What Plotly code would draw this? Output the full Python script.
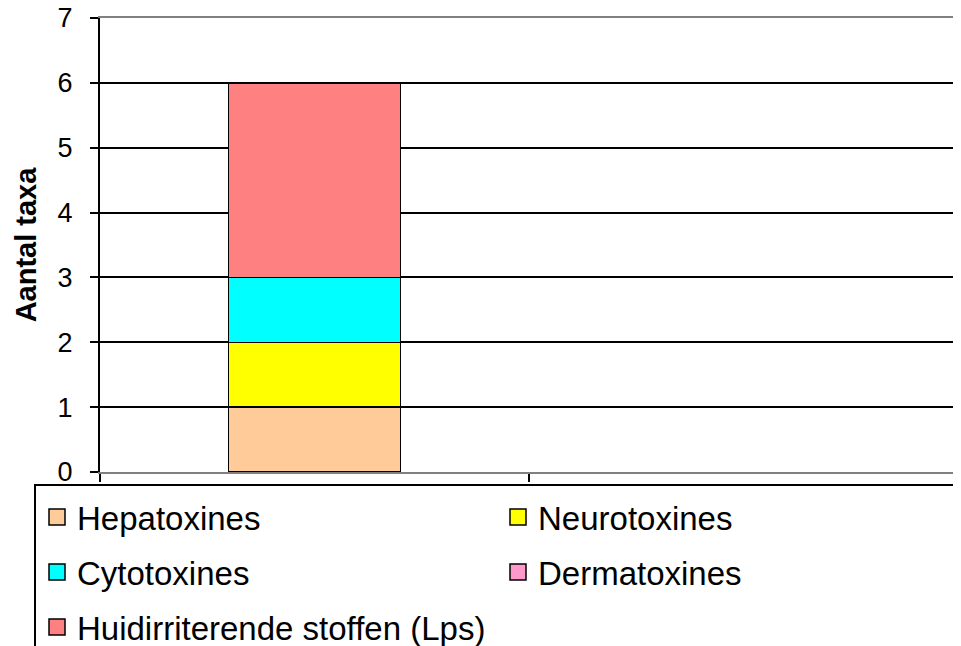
import plotly.graph_objects as go

categories = ["Groep 1", "Groep 2"]
series_names = ["Hepatoxines", "Neurotoxines", "Cytotoxines", "Dermatoxines",
                "Huidirriterende stoffen (Lps)"]
hepatoxines = [1, 0]
neurotoxines = [1, 0]
cytotoxines = [1, 0]
dermatoxines = [0, 0]
huidirriterende = [3, 0]
series_values = [hepatoxines, neurotoxines, cytotoxines, dermatoxines, huidirriterende]
colors = ["#FFCC99", "#FFFF00", "#00FFFF", "#FF99CC", "#FF8080"]
legend_ids = ["legend", "legend", "legend2", "legend2", "legend3"]
y_ticks = [0, 1, 2, 3, 4, 5, 6, 7]

FONT = "Liberation Sans, Arial, sans-serif"

fig = go.Figure()
for name, vals, col, lg in zip(series_names, series_values, colors, legend_ids):
    fig.add_trace(go.Bar(
        x=categories, y=vals, name=name, legendgroup=name, showlegend=False,
        marker=dict(color=col,
                    line=dict(color="black",
                              width=[1.5 if v else 0 for v in vals])),
    ))
    # legend proxy with a larger square swatch
    fig.add_trace(go.Scatter(
        x=[None], y=[None], mode="markers", name=name, legendgroup=name,
        legend=lg, showlegend=True,
        marker=dict(symbol="square", size=16, color=col,
                    line=dict(color="black", width=1.5)),
    ))

# page body has an 8px margin, so the figure sits at (8, 8) in the window
OFF = 8
PLOT_L, PLOT_T, PLOT_R, PLOT_B = 100, 18, 958, 472
PH = float(PLOT_B - PLOT_T)
PW = float(PLOT_R - PLOT_L)

def py(p):
    return (PLOT_B - p) / PH

def px(p):
    return (p - PLOT_L) / PW

legend_common = dict(orientation="h", xanchor="left", yanchor="middle",
                     x=px(37), entrywidth=416, entrywidthmode="pixels",
                     font=dict(family=FONT, size=33, color="black"),
                     bgcolor="rgba(0,0,0,0)", borderwidth=0)

fig.update_layout(
    width=961, height=646,
    margin=dict(l=PLOT_L - OFF, r=961 - (PLOT_R - OFF), t=PLOT_T - OFF,
                b=646 - (PLOT_B - OFF), autoexpand=False),
    paper_bgcolor="white", plot_bgcolor="white",
    barmode="stack", bargap=0.6,
    font=dict(family=FONT, color="black"),
    legend=dict(y=py(517), **legend_common),
    legend2=dict(y=py(572), **legend_common),
    legend3=dict(y=py(627), **legend_common),
    xaxis=dict(type="category", tickson="boundaries", showticklabels=False,
               ticks="outside", ticklen=8, tickwidth=1.5, tickcolor="black",
               showgrid=False, showline=True, linecolor="#808080", linewidth=2,
               mirror=True, zeroline=False),
    yaxis=dict(range=[0, 7], tickvals=y_ticks, ticks="outside", ticklen=8,
               tickwidth=1.5, tickcolor="black",
               tickfont=dict(family=FONT, size=27, color="black"),
               ticklabelstandoff=12, ticklabeloverflow="allow",
               showgrid=True, gridcolor="black", gridwidth=1.5,
               showline=True, linecolor="black", linewidth=2, zeroline=False,
               title=dict(text="<b>Aantal taxa</b>",
                          font=dict(family=FONT, size=29, color="black"),
                          standoff=12)),
    shapes=[
        dict(type="line", xref="paper", yref="paper", x0=1, x1=1, y0=0, y1=1,
             line=dict(color="#808080", width=2)),
        dict(type="rect", xref="paper", yref="paper",
             x0=px(35), x1=px(959), y0=py(485), y1=py(700),
             line=dict(color="black", width=2), fillcolor="rgba(0,0,0,0)"),
    ],
)

fig.write_html("out.html")
